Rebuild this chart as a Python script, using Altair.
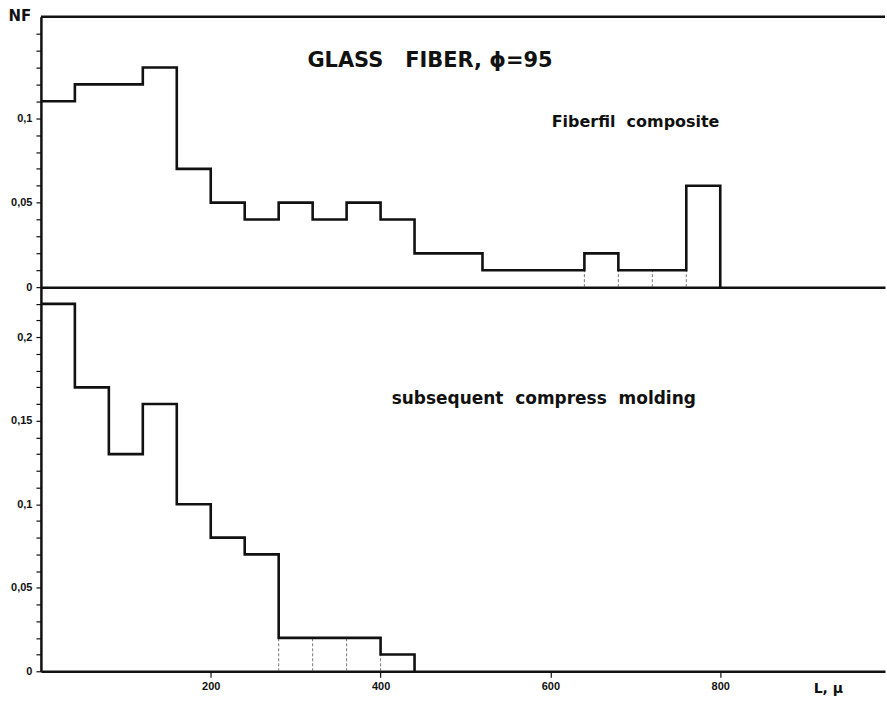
import altair as alt
import pandas as pd

# Fibre length histograms, bins of 40 µm starting at 0
BIN_WIDTH = 40
top_values = [0.11, 0.12, 0.12, 0.13, 0.07, 0.05, 0.04, 0.05, 0.04, 0.05,
              0.04, 0.02, 0.02, 0.01, 0.01, 0.01, 0.02, 0.01, 0.01, 0.06]
bottom_values = [0.22, 0.17, 0.13, 0.16, 0.10, 0.08, 0.07, 0.02, 0.02, 0.02, 0.01]

# bin boundaries drawn as faint dashed separators
top_thin_edges = [640, 680, 720, 760]
bottom_thin_edges = [280, 320, 360, 400]

x_ticks = [200, 400, 600, 800]
top_y_ticks = [round(i * 0.01, 2) for i in range(0, 16)]
bottom_y_ticks = [round(i * 0.01, 2) for i in range(0, 23)]
top_label_max = 0.1
bottom_label_max = 0.2

TITLE = "GLASS\u00a0\u00a0\u00a0FIBER,\u00a0\u03d5=95"
TOP_LABEL = "Fiberfil\u00a0\u00a0composite"
BOTTOM_LABEL = "subsequent\u00a0\u00a0compress\u00a0\u00a0molding"

X_MAX = 994
W = 846
H_TOP = 271
H_BOTTOM = 385
INK = "#111111"
LABEL_FONT = "Liberation Sans"
TEXT_FONT = "DejaVu Sans"


def step_frame(values):
    rows = [{"L": i * BIN_WIDTH, "NF": v} for i, v in enumerate(values)]
    rows.append({"L": len(values) * BIN_WIDTH, "NF": 0.0})
    return pd.DataFrame(rows)


def edge_frame(values, edges):
    rows = []
    for e in edges:
        k = e // BIN_WIDTH
        rows.append({"L": e, "NF": 0.0, "NF2": min(values[k - 1], values[k])})
    return pd.DataFrame(rows)


def label_expr(max_label):
    # label only the multiples of 0.05 (up to max_label), with a decimal comma
    return ("abs(datum.value * 20 - round(datum.value * 20)) < 0.001 && "
            f"datum.value <= {max_label + 0.001} ? "
            "replace(format(datum.value, '~g'), '.', ',') : ''")


def y_axis(values, max_label, title=None):
    kw = dict(
        values=values, labelExpr=label_expr(max_label), grid=False,
        labelOverlap=False, labelBound=False, labelFlush=False,
        tickSize=5, tickWidth=1.2, tickColor=INK,
        domainWidth=2.5, domainColor=INK,
        labelFont=LABEL_FONT, labelFontWeight="bold", labelFontSize=11,
        labelColor=INK, labelPadding=4,
    )
    if title:
        kw.update(title=title, titleAngle=0, titleAlign="left",
                  titleBaseline="alphabetic", titleX=-33, titleY=4,
                  titleFont=TEXT_FONT, titleFontSize=15, titleFontWeight="bold",
                  titleColor=INK)
    else:
        kw.update(title=None)
    return alt.Axis(**kw)


x_scale = alt.Scale(domain=[0, X_MAX], nice=False, zero=False)


def panel(values, edges, y_max, y_ticks, max_label, height, x_axis, y_title, texts):
    y_scale = alt.Scale(domain=[0, y_max], nice=False)
    yax = y_axis(y_ticks, max_label, y_title)
    steps = alt.Chart(step_frame(values)).mark_line(
        interpolate="step-after", strokeWidth=2.6, color=INK, strokeJoin="miter"
    ).encode(
        x=alt.X("L:Q", scale=x_scale, axis=x_axis),
        y=alt.Y("NF:Q", scale=y_scale, axis=yax),
    )
    seps = alt.Chart(edge_frame(values, edges)).mark_rule(
        strokeWidth=0.8, color="#555555", strokeDash=[3, 2]
    ).encode(
        x=alt.X("L:Q", scale=x_scale, axis=x_axis),
        y=alt.Y("NF:Q", scale=y_scale, axis=yax),
        y2="NF2:Q",
    )
    layers = [seps, steps]
    for text, px, py, size in texts:
        layers.append(
            alt.Chart(pd.DataFrame({"t": [text]})).mark_text(
                font=TEXT_FONT, fontWeight="bold", fontSize=size, color=INK,
                align="center", baseline="alphabetic"
            ).encode(text="t:N", x=alt.value(px), y=alt.value(py))
        )
    return alt.layer(*layers).properties(width=W, height=height)


top_x_axis = alt.Axis(labels=False, ticks=False, title=None, grid=False,
                      domainWidth=2.5, domainColor=INK)
bottom_x_axis = alt.Axis(
    values=x_ticks, grid=False, tickSize=6, tickWidth=1.2, tickColor=INK,
    domainWidth=2.5, domainColor=INK, labelOverlap=False,
    labelFont=LABEL_FONT, labelFontWeight="bold", labelFontSize=11,
    labelColor=INK, labelPadding=3,
    title="L, \u03bc", titleX=774, titleY=21, titleAlign="left",
    titleBaseline="alphabetic", titleFont=TEXT_FONT, titleFontSize=14,
    titleFontWeight="bold", titleColor=INK,
)

top = panel(top_values, top_thin_edges, 0.16, top_y_ticks, top_label_max, H_TOP,
            top_x_axis, "NF",
            [(TITLE, 390, 50, 21), (TOP_LABEL, 596, 111, 16)])
# frame line along the upper edge of the upper panel
top_border = alt.Chart(pd.DataFrame({"a": [0]})).mark_rule(
    strokeWidth=2.5, color=INK
).encode(x=alt.value(0), x2=alt.value(W), y=alt.value(0))
top = alt.layer(top, top_border)

bottom = panel(bottom_values, bottom_thin_edges, 0.23, bottom_y_ticks,
               bottom_label_max, H_BOTTOM, bottom_x_axis, None,
               [(BOTTOM_LABEL, 504, 117, 17)])

chart = alt.vconcat(top, bottom, spacing=0, bounds="flush").configure(
    padding={"left": 8, "top": 8, "right": 0, "bottom": 0},
    background="white",
).configure_view(stroke=None)

chart.save("out.html", embed_options={"renderer": "svg", "actions": False})
